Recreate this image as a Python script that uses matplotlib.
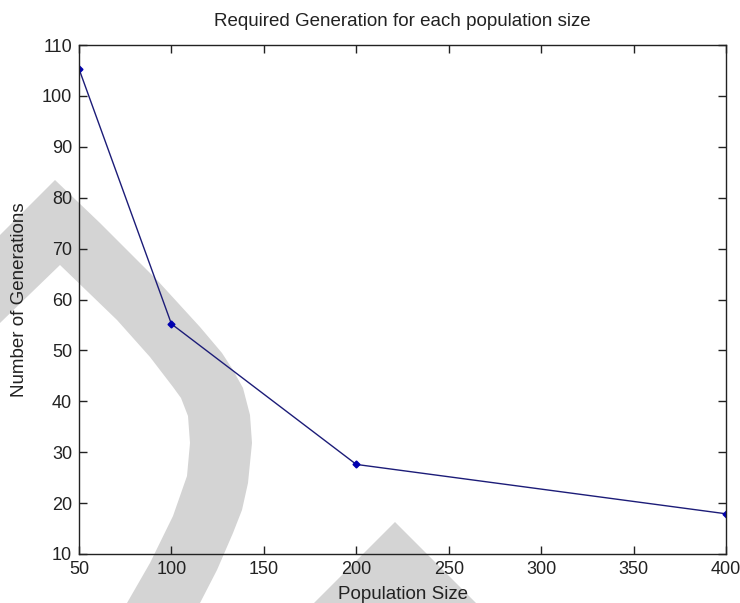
import matplotlib
matplotlib.use("Agg")
import matplotlib.pyplot as plt
from matplotlib.patches import Polygon

pop_size = [50, 100, 200, 400]
generations = [105.3, 55.2, 27.6, 17.9]
x_ticks = [50, 100, 150, 200, 250, 300, 350, 400]
y_ticks = [10, 20, 30, 40, 50, 60, 70, 80, 90, 100, 110]

plt.rcParams['font.family'] = ['Liberation Sans', 'DejaVu Sans']

W, H = 740, 603
fig = plt.figure(figsize=(W / 100, H / 100), dpi=100)
fig.patch.set_facecolor('white')

def fp(pts):
    return [(x / W, 1 - y / H) for x, y in pts]

gray = '#d4d4d4'
outer = [(0, 235), (55, 180), (100, 223), (157, 280), (200, 327), (222, 353),
         (233, 370), (243, 388), (250, 415), (252, 443), (248, 483),
         (242, 510), (233, 533), (217, 570), (200, 603)]
inner = [(127, 603), (150, 563), (173, 516), (187, 476), (190, 443),
         (188, 416), (181, 398), (173, 387), (150, 357), (117, 320),
         (60, 265), (0, 323)]
arc = outer + inner
tri = [(395, 522), (476, 603), (314, 603)]
for pts in (arc, tri):
    fig.patches.append(Polygon(fp(pts), closed=True, transform=fig.transFigure,
                               facecolor=gray, edgecolor='none', zorder=0))

ax = fig.add_axes([79 / W, 1 - 554 / H, (726 - 79) / W, (554 - 45) / H])
ax.set_facecolor('none')
ax.set_zorder(1)

ax.plot(pop_size, generations, color='#1c1c78', linewidth=1.0,
        marker='D', markersize=3.5, markerfacecolor='#0000b0',
        markeredgecolor='#0000b0')

ax.set_xlim(50, 400)
ax.set_ylim(10, 110)
ax.set_xticks(x_ticks)
ax.set_yticks(y_ticks)
ax.tick_params(direction='in', length=6, width=1, top=True, right=True,
               labelsize=13, colors='#222222', pad=5)
for s in ax.spines.values():
    s.set_linewidth(1.0)
    s.set_color('#222222')

ax.set_title('Required Generation for each population size', fontsize=13.5,
             color='#222222', pad=14)
ax.set_xlabel('Population Size', fontsize=13.5, color='#222222')
ax.xaxis.set_label_coords(0.5, (554 - 586) / 509)
ax.set_ylabel('Number of Generations', fontsize=13.5, color='#222222', labelpad=10)

fig.savefig('out.png', dpi=100, facecolor='white')
